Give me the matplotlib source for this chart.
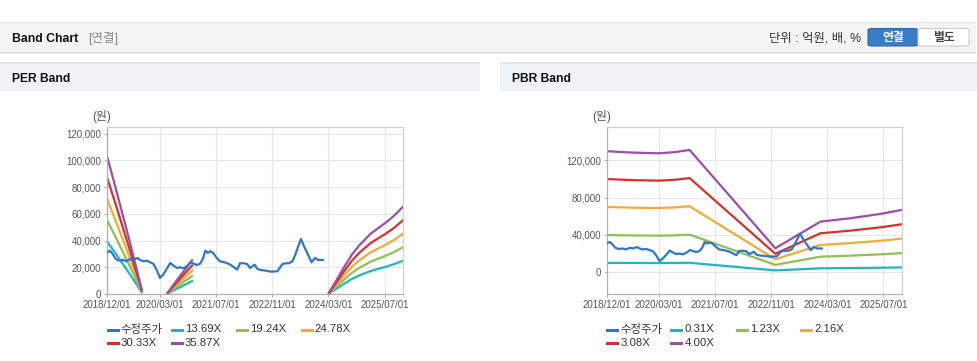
import numpy as np
import pandas as pd
import matplotlib
matplotlib.use('Agg')
import matplotlib.pyplot as plt
from matplotlib.patches import Rectangle, FancyBboxPatch
from matplotlib.lines import Line2D
from matplotlib.ticker import FuncFormatter, FixedLocator

plt.rcParams['font.family'] = ['Liberation Sans', 'Noto Sans CJK KR']

# 수정주가 (원)
price_dates = ['2018-12-07', '2018-12-27', '2019-01-19', '2019-02-15', '2019-03-15', '2019-04-19',
               '2019-05-19', '2019-06-19', '2019-07-15', '2019-08-22', '2019-09-12', '2019-10-12',
               '2019-11-09', '2019-12-09', '2020-01-07', '2020-02-07', '2020-03-04', '2020-04-04',
               '2020-05-01', '2020-06-01', '2020-06-28', '2020-07-28', '2020-08-25', '2020-09-25',
               '2020-10-28', '2020-11-22', '2020-12-16', '2021-01-13', '2021-02-12', '2021-03-10',
               '2021-04-01', '2021-04-22', '2021-05-13', '2021-06-07', '2021-07-04', '2021-08-04',
               '2021-09-13', '2021-10-22', '2021-11-28', '2022-01-01', '2022-01-25', '2022-03-01',
               '2022-03-28', '2022-04-22', '2022-05-10', '2022-06-01', '2022-06-25', '2022-07-22',
               '2022-09-07', '2022-10-19', '2022-12-16', '2023-01-28', '2023-02-28', '2023-03-25',
               '2023-04-25', '2023-05-22', '2023-07-07', '2023-08-04', '2023-09-04', '2023-10-07',
               '2023-11-07', '2023-12-04', '2024-01-13']
price_values = [31250, 32500, 30000, 26250, 25000, 25500,
                24500, 26250, 25500, 27000, 25500, 24500,
                25000, 23750, 22500, 17500, 12000, 15000,
                18750, 23250, 21250, 19500, 20000, 19250,
                21250, 23750, 23000, 21750, 22500, 26250,
                32500, 30750, 32000, 30750, 27500, 24500,
                23750, 22500, 20500, 18250, 23000, 23000,
                22500, 19500, 20500, 22000, 18750, 18000,
                17500, 16750, 17000, 22500, 23000, 23000,
                24500, 30000, 41250, 35500, 30000, 23750,
                27000, 25500, 25500]

# PER 밴드 기준 EPS (원), NaN = 구간 없음
eps_dates = ['2018-12-01', '2019-02-01', '2019-04-01', '2019-06-01', '2019-08-01', '2019-09-28',
             '2020-01-15',
             '2020-05-10', '2020-08-01', '2020-12-07',
             '2022-06-01',
             '2024-03-07', '2024-05-15', '2024-07-16', '2024-09-20', '2024-11-25', '2025-03-04',
             '2025-07-01', '2025-09-15', '2025-12-07']
eps_values = [2880, 2330, 1790, 1230, 650, 90,
              np.nan,
              30, 300, 705,
              np.nan,
              30, 310, 566, 820, 1020, 1263,
              1472, 1620, 1820]
per_multiples = [13.69, 19.24, 24.78, 30.33, 35.87]

# PBR 밴드 기준 BPS (원)
bps_dates = ['2018-12-01', '2019-07-15', '2020-03-01', '2020-07-25', '2020-11-20', '2022-12-05',
             '2024-01-01', '2024-09-15', '2025-06-05', '2025-12-07']
bps_values = [32440, 32060, 31880, 32220, 32790, 6435,
              13565, 14475, 15630, 16700]
pbr_multiples = [0.31, 1.23, 2.16, 3.08, 4.00]

x_ticks = ['2018-12-01', '2020-03-01', '2021-07-01', '2022-11-01', '2024-03-01', '2025-07-01']
x_ticklabels = ['2018/12/01', '2020/03/01', '2021/07/01', '2022/11/01', '2024/03/01', '2025/07/01']
x_range = ['2018-12-01', '2025-12-07']

price_color = '#2f77c6'
band_colors = ['#1fb5c6', '#8dc152', '#f4aa35', '#d3322c', '#9a4fa6']

W, H = 978, 361
fig = plt.figure(figsize=(W / 100, H / 100), dpi=100)
fig.patch.set_facecolor('white')


def box(x0, y0, x1, y1, color, **kw):
    # pixel coords (top-left origin) -> figure fraction
    fig.add_artist(Rectangle((x0 / W, 1 - y1 / H), (x1 - x0) / W, (y1 - y0) / H,
                             transform=fig.transFigure, facecolor=color, edgecolor='none', **kw))


def text(x, y, s, **kw):
    fig.text(x / W, 1 - y / H, s, **kw)


# 상단 바
box(0, 21.5, 976, 23, '#e4e4e4')
box(0, 23, 976, 51.5, '#f4f4f4')
box(0, 51.5, 976, 52.5, '#d6d6d6')
box(0, 52.5, 976, 54, '#ececec')
text(12, 38.5, 'Band Chart', fontsize=8.8, fontweight='bold', color='#111', va='center')
text(88.5, 38.5, '[연결]', fontsize=9, color='#8a8a8a', va='center')
text(861, 38.5, '단위 : 억원, 배, %', fontsize=8.9, color='#333', va='center', ha='right')
fig.add_artist(FancyBboxPatch((868 / W, 1 - 46 / H), 50 / W, 17.5 / H,
                              boxstyle='round,pad=0,rounding_size=0.004', transform=fig.transFigure,
                              facecolor='#3a7dc3', edgecolor='#2f6aa6', linewidth=0.8))
fig.add_artist(FancyBboxPatch((918 / W, 1 - 46 / H), 51 / W, 17.5 / H,
                              boxstyle='round,pad=0,rounding_size=0.004', transform=fig.transFigure,
                              facecolor='white', edgecolor='#cccccc', linewidth=0.8))
text(893, 37.5, '연결', fontsize=8.5, color='white', fontweight='bold', ha='center', va='center')
text(943.5, 37.5, '별도', fontsize=8.5, color='#444', fontweight='bold', ha='center', va='center')

# 패널 헤더
for x0, x1, title in [(0, 480, 'PER Band'), (500, 978, 'PBR Band')]:
    box(x0, 62, x1, 64, '#e2e6ec')
    box(x0, 64, x1, 91, '#eff2f7')
    text(x0 + 12, 78.5, title, fontsize=8.7, fontweight='bold', color='#111', va='center')

eps = np.array(eps_values, dtype=float)
bps = np.array(bps_values, dtype=float)
panels = [
    (107, 403, eps_dates, eps, per_multiples, (0, 125000), [0, 20000, 40000, 60000, 80000, 100000, 120000]),
    (606.7, 901.7, bps_dates, bps, pbr_multiples, (-23300, 155700), [0, 40000, 80000, 120000]),
]

for left, right, b_dates, base, mults, ylim, yticks in panels:
    top, bottom = 127, 294
    ax = fig.add_axes([left / W, 1 - bottom / H, (right - left) / W, (bottom - top) / H])
    ax.plot(pd.to_datetime(price_dates), price_values, color=price_color, lw=1.6, zorder=5)
    for m, c in zip(mults, band_colors):
        ax.plot(pd.to_datetime(b_dates), base * m, color=c, lw=1.6)
    ax.set_xlim(pd.to_datetime(x_range[0]), pd.to_datetime(x_range[1]))
    ax.set_ylim(*ylim)
    ax.xaxis.set_major_locator(FixedLocator(matplotlib.dates.date2num(pd.to_datetime(x_ticks))))
    ax.set_xticklabels(x_ticklabels)
    ax.set_yticks(yticks)
    ax.yaxis.set_major_formatter(FuncFormatter(lambda v, p: f'{int(v):,}'))
    ax.grid(True, color='#e6e6e6', lw=0.8)
    ax.set_axisbelow(True)
    for s in ax.spines.values():
        s.set_color('#cfcfcf')
        s.set_linewidth(0.9)
    ax.spines['left'].set_color('#b0b0b0')
    ax.spines['bottom'].set_color('#b0b0b0')
    ax.tick_params(labelsize=7, colors='#555', length=2.5, pad=2, width=0.8)
    ax.tick_params(axis='x', color='#b0b0b0')
    ax.tick_params(axis='y', color='#b0b0b0', pad=1.5)
    text(left - 5.5, 116.5, '(원)', fontsize=8.5, color='#555', ha='center', va='center')

    labels = ['수정주가'] + [f'{m:.2f}X' for m in mults]
    colors = [price_color] + band_colors
    offsets = [0, 64, 129.5, 194]
    for i, (lab, c) in enumerate(zip(labels, colors)):
        x0 = left + 0.7 + offsets[i % 4]
        y0 = 329.5 + 13 * (i // 4)
        fig.add_artist(Line2D([x0 / W, (x0 + 10) / W], [1 - y0 / H, 1 - y0 / H],
                              transform=fig.transFigure, color=c, lw=2.2))
        text(x0 + 13, y0, lab, fontsize=8.2, color='#333', va='center')

fig.savefig('out.png', dpi=100)
